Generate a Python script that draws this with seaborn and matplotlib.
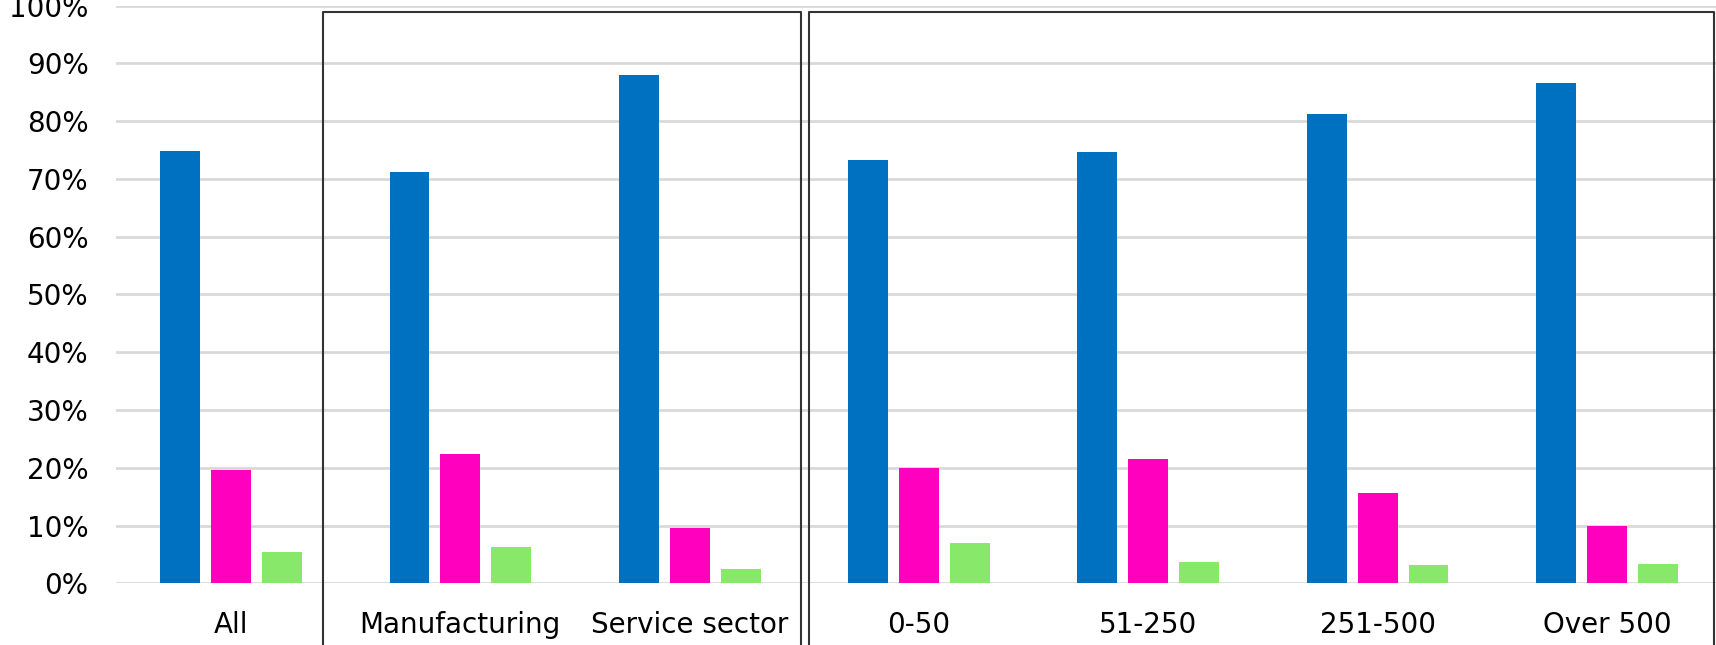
import matplotlib
matplotlib.use("Agg")
import matplotlib.pyplot as plt
import seaborn as sns
import pandas as pd
from matplotlib.lines import Line2D
from matplotlib.ticker import FuncFormatter, MultipleLocator

categories = ["All", "Manufacturing", "Service sector", "0-50", "51-250", "251-500", "Over 500"]
series_names = ["Series 1", "Series 2", "Series 3"]
series1 = [0.749, 0.712, 0.880, 0.732, 0.747, 0.813, 0.867]
series2 = [0.196, 0.224, 0.096, 0.199, 0.215, 0.156, 0.100]
series3 = [0.055, 0.063, 0.024, 0.069, 0.037, 0.031, 0.033]
colors = ["#0070C0", "#FF00BF", "#88E86A"]

rows = []
for name, vals in zip(series_names, [series1, series2, series3]):
    for c, v in zip(categories, vals):
        rows.append({"category": c, "series": name, "value": v})
df = pd.DataFrame(rows)

sns.set_style("white")
plt.rcParams["font.family"] = ["DejaVu Sans"]

fig = plt.figure(figsize=(17.16, 6.45), dpi=100)
ax = fig.add_axes([116.4 / 1716, 1 - 583.3 / 645, (1721.6 - 116.4) / 1716, (583.3 - 5.7) / 645])

sns.barplot(data=df, x="category", y="value", hue="series", order=categories,
            hue_order=series_names, palette=colors, width=0.667, gap=0.22,
            saturation=1, legend=False, ax=ax, linewidth=0)

ax.set_xlim(-0.5, len(categories) - 0.5)
ax.set_ylim(0, 1.0)
ax.yaxis.set_major_locator(MultipleLocator(0.1))
ax.yaxis.set_major_formatter(FuncFormatter(lambda v, p: f"{v*100:.0f}%"))
ax.grid(axis="y", color="#D9D9D9", linewidth=2)
ax.set_axisbelow(True)
for s in ax.spines.values():
    s.set_visible(False)
ax.set_xlabel("")
ax.set_ylabel("")
ax.tick_params(axis="x", length=0, pad=20, labelsize=20, labelcolor="black")
ax.tick_params(axis="y", length=0, pad=20, labelsize=20, labelcolor="black")

# group frames
W, H = 1716, 645
def box(x0, x1, ytop):
    fx0, fx1, fy = x0 / W, x1 / W, 1 - ytop / H
    fig.add_artist(Line2D([fx0, fx0, fx1, fx1], [-0.02, fy, fy, -0.02],
                          transform=fig.transFigure, color="#333333", linewidth=1.5))
box(322.5, 801, 11.7)
box(809, 1714, 11.7)

fig.savefig("out.png", dpi=100, facecolor="white")
